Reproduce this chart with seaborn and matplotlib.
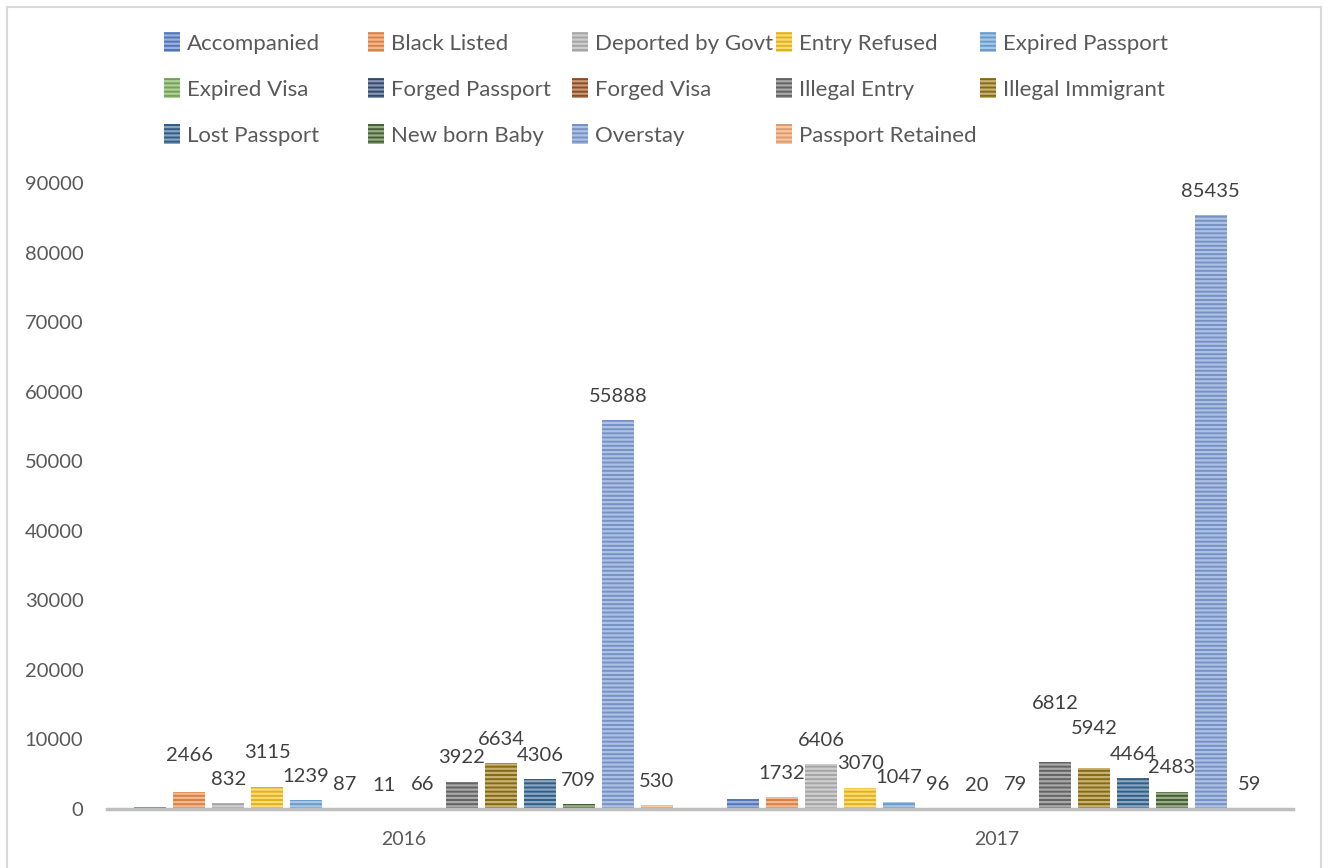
import matplotlib
matplotlib.use("Agg")
import matplotlib.pyplot as plt
import matplotlib.colors as mcolors
import pandas as pd
import seaborn as sns
from matplotlib.patches import Rectangle

years = ["2016", "2017"]
reasons = [
    "Accompanied", "Black Listed", "Deported by Govt", "Entry Refused", "Expired Passport",
    "Expired Visa", "Forged Passport", "Forged Visa", "Illegal Entry", "Illegal Immigrant",
    "Lost Passport", "New born Baby", "Overstay", "Passport Retained",
]
counts_2016 = [280, 2466, 832, 3115, 1239, 87, 11, 66, 3922, 6634, 4306, 709, 55888, 530]
counts_2017 = [1380, 1732, 6406, 3070, 1047, 96, 20, 79, 6812, 5942, 4464, 2483, 85435, 59]
# the source chart shows no value label for this series
unlabelled = ["Accompanied"]

colors = [
    "#4472C4", "#ED7D31", "#A5A5A5", "#FFC000", "#5B9BD5",
    "#70AD47", "#264478", "#9E480E", "#636363", "#997300",
    "#255E91", "#43682B", "#698ED0", "#F1975A",
]

# extra lift (points) Excel gave some labels to avoid overlapping
label_nudge = {
    ("2016", "Black Listed"): 9, ("2016", "Entry Refused"): 8,
    ("2017", "Illegal Entry"): 25, ("2017", "Illegal Immigrant"): 11,
}

df = pd.DataFrame({
    "year": [y for y in years for _ in reasons],
    "reason": reasons * 2,
    "count": counts_2016 + counts_2017,
})


def lighten(c, amount=0.45):
    r, g, b = mcolors.to_rgb(c)
    return (r + (1 - r) * amount, g + (1 - g) * amount, b + (1 - b) * amount)


plt.rcParams["hatch.linewidth"] = 1.6
W, H = 1328, 868
fig = plt.figure(figsize=(W / 100, H / 100), dpi=100)
ax = fig.add_axes([0.0806, 0.068, 0.893, 0.721])
sns.barplot(data=df, x="year", y="count", hue="reason", hue_order=reasons,
            palette=colors, width=0.92, gap=0.18, legend=False, ax=ax)

fam = ["Lato", "DejaVu Sans"]
text_col = "#404040"

for cont, reason, col in zip(ax.containers, reasons, colors):
    for patch, year in zip(cont.patches, years):
        patch.set_hatch("----")
        patch.set_edgecolor(lighten(col))
        patch.set_linewidth(0)
        if reason in unlabelled:
            continue
        val = patch.get_height()
        ax.annotate(f"{int(val)}", (patch.get_x() + patch.get_width() / 2, val),
                    xytext=(0, 11 + label_nudge.get((year, reason), 0)), textcoords="offset points",
                    ha="center", va="bottom", fontsize=14.5, color=text_col, family=fam)

ax.set_ylim(0, 90000)
ax.set_xlim(-0.5, 1.5)
ax.set_yticks(range(0, 90001, 10000))
ax.set_xlabel("")
ax.set_ylabel("")
for s in ["top", "right", "left"]:
    ax.spines[s].set_visible(False)
ax.spines["bottom"].set_color("#BFBFBF")
ax.spines["bottom"].set_linewidth(2.5)
ax.tick_params(axis="both", length=0, colors="#595959")
ax.tick_params(axis="y", pad=17)
ax.tick_params(axis="x", pad=16)
for lab in ax.get_yticklabels():
    lab.set_family(fam)
    lab.set_fontsize(14.5)
for lab in ax.get_xticklabels():
    lab.set_family(fam)
    lab.set_fontsize(14)

# Excel lays the legend out row by row in equal-width columns,
# so build one single-column legend per column
ncol = 5
for c in range(ncol):
    idx = list(range(c, len(reasons), ncol))
    fig.legend(handles=[ax.containers[i] for i in idx], labels=[reasons[i] for i in idx],
               loc="upper left", bbox_to_anchor=((164 + 204 * c) / W, 1 - 32 / H),
               frameon=False, borderpad=0, borderaxespad=0,
               prop={"family": fam, "size": 16}, labelcolor="#595959",
               handlelength=0.7, handleheight=1.0, handletextpad=0.35,
               labelspacing=1.1)

fig.patches.append(Rectangle((0.005, -0.01), 0.99, 1.002, transform=fig.transFigure,
                             fill=False, edgecolor="#D9D9D9", linewidth=1.5))

fig.savefig("out.png", dpi=100)
